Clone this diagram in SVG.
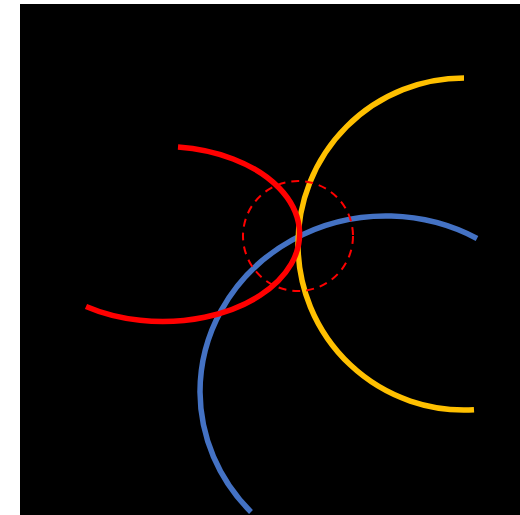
<svg xmlns="http://www.w3.org/2000/svg" width="520" height="515" viewBox="0 0 520 515">
<style>
.arc{fill:none;stroke-width:5.5;stroke-linecap:butt}
</style>
<rect x="0" y="0" width="520" height="515" fill="#ffffff"/>
<rect x="20" y="4" width="500" height="511" fill="#000000"/>
<g id="blue-arc"><path class="arc" stroke="#4472C4" d="M 477 238.5 A 186 176 0 0 0 200 392 A 186 176 0 0 0 251 512"/></g>
<g id="yellow-arc"><path class="arc" stroke="#FFC000" d="M 464 78 A 166 166 0 0 0 298 244 A 166 166 0 0 0 474 409.7"/></g>
<g id="red-arc"><path class="arc" stroke="#FF0000" d="M 178 147 A 137 87.5 0 1 1 86 306.5"/></g>
<g id="dashed-circle"><circle cx="298" cy="236" r="55" fill="none" stroke="#FF0000" stroke-width="2" stroke-dasharray="8,6"/></g>
</svg>
